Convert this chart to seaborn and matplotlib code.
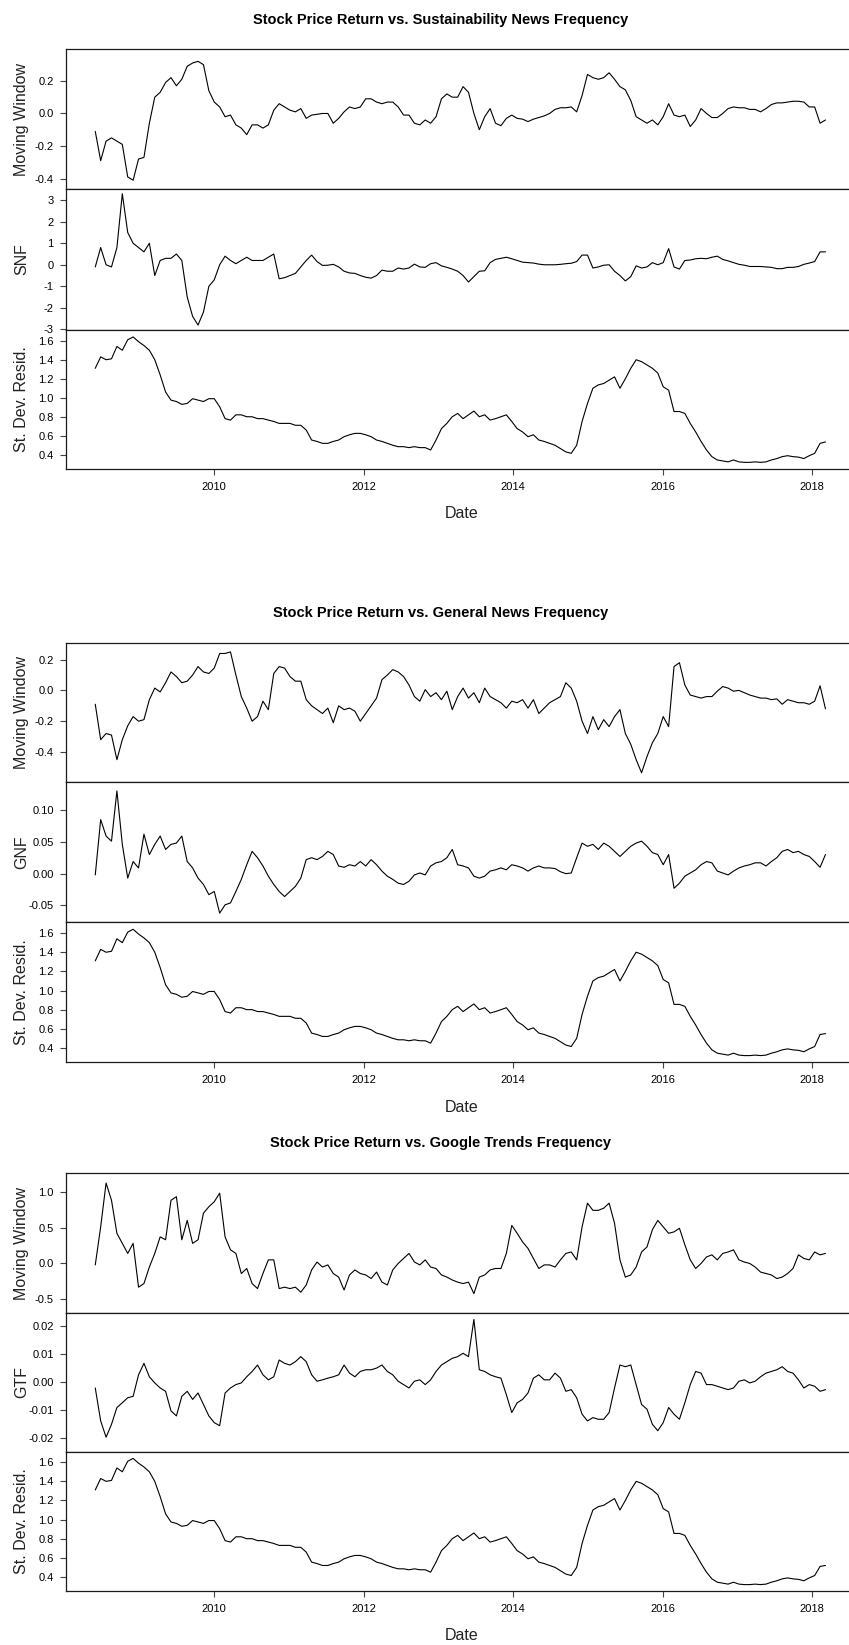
import numpy as np
import pandas as pd
import matplotlib
matplotlib.use("Agg")
import matplotlib.pyplot as plt
import seaborn as sns

# ---------------- data ----------------
START, END = "2008-05-30", "2018-03-07"

snf_mw = [-0.11, -0.29, -0.17, -0.15, -0.17, -0.19, -0.39, -0.41, -0.28, -0.27,
          -0.06, 0.10, 0.13, 0.19, 0.22, 0.17, 0.21, 0.29, 0.31, 0.32,
          0.30, 0.14, 0.07, 0.04, -0.02, -0.01, -0.07, -0.09, -0.13, -0.07,
          -0.07, -0.09, -0.07, 0.02, 0.06, 0.04, 0.02, 0.01, 0.03, -0.03,
          -0.01, -0.005, 0.0, 0.0, -0.06, -0.03, 0.01, 0.04, 0.03, 0.04,
          0.09, 0.09, 0.07, 0.06, 0.07, 0.07, 0.04, -0.01, -0.01, -0.06,
          -0.07, -0.04, -0.06, -0.02, 0.09, 0.12, 0.10, 0.10, 0.165, 0.13,
          0.0, -0.10, -0.02, 0.03, -0.06, -0.075, -0.03, -0.01, -0.03, -0.035,
          -0.05, -0.035, -0.025, -0.015, 0.0, 0.025, 0.035, 0.035, 0.04, 0.01,
          0.11, 0.24, 0.22, 0.21, 0.22, 0.25, 0.21, 0.165, 0.145, 0.08,
          -0.02, -0.04, -0.06, -0.04, -0.07, -0.02, 0.06, -0.01, -0.02, -0.01,
          -0.08, -0.04, 0.03, 0.0, -0.025, -0.025, 0.0, 0.03, 0.04, 0.035,
          0.035, 0.025, 0.025, 0.01, 0.03, 0.055, 0.065, 0.065, 0.07, 0.075,
          0.075, 0.07, 0.04, 0.04, -0.06, -0.04]

snf = [-0.1, 0.8, 0.0, -0.1, 0.8, 3.3, 1.5, 1.0, 0.8, 0.6,
       1.0, -0.5, 0.2, 0.3, 0.3, 0.5, 0.2, -1.5, -2.4, -2.8,
       -2.2, -1.0, -0.7, 0.0, 0.4, 0.2, 0.05, 0.2, 0.35, 0.2,
       0.2, 0.2, 0.35, 0.5, -0.65, -0.6, -0.5, -0.4, -0.1, 0.2,
       0.45, 0.15, -0.03, -0.02, 0.02, -0.1, -0.3, -0.38, -0.4, -0.5,
       -0.58, -0.62, -0.5, -0.25, -0.3, -0.3, -0.15, -0.2, -0.15, 0.03,
       -0.1, -0.12, 0.05, 0.1, -0.05, -0.12, -0.2, -0.3, -0.5, -0.8,
       -0.55, -0.3, -0.28, 0.1, 0.25, 0.3, 0.35, 0.28, 0.2, 0.12,
       0.1, 0.08, 0.03, 0.0, 0.0, 0.0, 0.02, 0.05, 0.07, 0.15,
       0.45, 0.45, -0.15, -0.1, -0.02, 0.0, -0.3, -0.5, -0.75, -0.55,
       -0.05, -0.15, -0.1, 0.1, 0.0, 0.1, 0.75, -0.1, -0.2, 0.2,
       0.22, 0.28, 0.3, 0.28, 0.35, 0.4, 0.25, 0.18, 0.1, 0.02,
       -0.02, -0.08, -0.08, -0.08, -0.1, -0.12, -0.18, -0.18, -0.12, -0.12,
       -0.08, 0.02, 0.08, 0.15, 0.6, 0.6]

sd_resid_snf = [1.31, 1.43, 1.40, 1.41, 1.54, 1.50, 1.61, 1.64, 1.59, 1.55,
                1.50, 1.40, 1.24, 1.06, 0.975, 0.96, 0.93, 0.94, 0.99, 0.975,
                0.96, 0.99, 0.99, 0.905, 0.78, 0.765, 0.82, 0.82, 0.80, 0.80,
                0.78, 0.78, 0.765, 0.75, 0.73, 0.73, 0.73, 0.71, 0.71, 0.66,
                0.555, 0.54, 0.52, 0.52, 0.54, 0.555, 0.59, 0.61, 0.625, 0.625,
                0.61, 0.59, 0.555, 0.54, 0.52, 0.50, 0.485, 0.485, 0.475, 0.485,
                0.475, 0.475, 0.45, 0.555, 0.675, 0.73, 0.80, 0.835, 0.78, 0.82,
                0.86, 0.80, 0.82, 0.765, 0.78, 0.80, 0.82, 0.75, 0.675, 0.64,
                0.59, 0.61, 0.555, 0.54, 0.52, 0.50, 0.465, 0.43, 0.415, 0.50,
                0.75, 0.94, 1.10, 1.135, 1.15, 1.185, 1.22, 1.10, 1.20, 1.31,
                1.40, 1.38, 1.345, 1.31, 1.26, 1.115, 1.08, 0.855, 0.855, 0.835,
                0.73, 0.64, 0.54, 0.45, 0.38, 0.345, 0.335, 0.325, 0.345, 0.325,
                0.32, 0.32, 0.325, 0.32, 0.325, 0.345, 0.36, 0.38, 0.39, 0.38,
                0.375, 0.36, 0.39, 0.415, 0.52, 0.535]

gnf_mw = [-0.09, -0.32, -0.28, -0.29, -0.45, -0.32, -0.23, -0.17, -0.20, -0.19,
          -0.06, 0.015, -0.01, 0.05, 0.12, 0.09, 0.05, 0.06, 0.10, 0.155,
          0.12, 0.11, 0.145, 0.24, 0.24, 0.25, 0.10, -0.04, -0.115, -0.20,
          -0.17, -0.07, -0.125, 0.11, 0.155, 0.145, 0.09, 0.06, 0.06, -0.06,
          -0.10, -0.125, -0.15, -0.115, -0.21, -0.10, -0.125, -0.115, -0.135, -0.20,
          -0.15, -0.10, -0.05, 0.07, 0.10, 0.135, 0.12, 0.09, 0.035, -0.04,
          -0.07, 0.005, -0.04, -0.015, -0.06, -0.005, -0.125, -0.04, 0.015, -0.05,
          -0.015, -0.08, 0.015, -0.04, -0.06, -0.08, -0.115, -0.07, -0.08, -0.06,
          -0.115, -0.06, -0.15, -0.115, -0.08, -0.06, -0.04, 0.05, 0.015, -0.07,
          -0.20, -0.28, -0.17, -0.255, -0.19, -0.235, -0.17, -0.125, -0.28, -0.35,
          -0.45, -0.535, -0.43, -0.34, -0.28, -0.17, -0.235, 0.155, 0.18, 0.035,
          -0.03, -0.04, -0.05, -0.04, -0.04, -0.005, 0.025, 0.015, -0.005, 0.0,
          -0.015, -0.03, -0.04, -0.05, -0.05, -0.06, -0.055, -0.09, -0.06, -0.07,
          -0.08, -0.08, -0.09, -0.07, 0.03, -0.12]

gnf = [-0.002, 0.085, 0.059, 0.051, 0.13, 0.046, -0.007, 0.019, 0.009, 0.062,
       0.03, 0.046, 0.059, 0.038, 0.046, 0.048, 0.059, 0.019, 0.009, -0.007,
       -0.017, -0.033, -0.028, -0.062, -0.049, -0.046, -0.028, -0.009, 0.014, 0.035,
       0.025, 0.012, -0.004, -0.017, -0.028, -0.036, -0.028, -0.02, -0.007, 0.022,
       0.025, 0.022, 0.027, 0.035, 0.03, 0.012, 0.010, 0.014, 0.012, 0.019,
       0.012, 0.022, 0.014, 0.004, -0.004, -0.009, -0.015, -0.017, -0.012, -0.002,
       0.001, -0.002, 0.012, 0.017, 0.019, 0.025, 0.038, 0.014, 0.012, 0.009,
       -0.004, -0.007, -0.004, 0.004, 0.006, 0.009, 0.006, 0.014, 0.012, 0.009,
       0.004, 0.009, 0.012, 0.009, 0.009, 0.008, 0.003, 0.0, 0.001, 0.025,
       0.048, 0.043, 0.046, 0.038, 0.048, 0.043, 0.035, 0.027, 0.035, 0.043,
       0.048, 0.051, 0.043, 0.033, 0.03, 0.014, 0.03, -0.023, -0.015, -0.004,
       0.001, 0.006, 0.014, 0.019, 0.017, 0.004, 0.001, -0.002, 0.004, 0.009,
       0.012, 0.014, 0.017, 0.017, 0.012, 0.019, 0.025, 0.035, 0.038, 0.033,
       0.035, 0.03, 0.027, 0.019, 0.01, 0.03]

sd_resid_gnf = sd_resid_snf[:-2] + [0.54, 0.55]

gtf_mw = [-0.02, 0.51, 1.12, 0.88, 0.42, 0.28, 0.14, 0.28, -0.33, -0.28,
          -0.05, 0.14, 0.37, 0.33, 0.88, 0.93, 0.33, 0.60, 0.28, 0.33,
          0.70, 0.79, 0.86, 0.98, 0.37, 0.19, 0.14, -0.14, -0.07, -0.28,
          -0.35, -0.14, 0.05, 0.05, -0.35, -0.33, -0.35, -0.33, -0.40, -0.30,
          -0.09, 0.02, -0.05, -0.02, -0.14, -0.19, -0.37, -0.16, -0.09, -0.14,
          -0.16, -0.21, -0.12, -0.26, -0.30, -0.09, 0.0, 0.07, 0.14, 0.02,
          -0.02, 0.05, -0.05, -0.07, -0.16, -0.19, -0.23, -0.26, -0.28, -0.26,
          -0.42, -0.19, -0.16, -0.09, -0.07, -0.07, 0.14, 0.53, 0.42, 0.30,
          0.21, 0.07, -0.07, -0.02, -0.02, -0.05, 0.05, 0.14, 0.16, 0.05,
          0.51, 0.84, 0.74, 0.74, 0.77, 0.84, 0.56, 0.05, -0.19, -0.16,
          -0.05, 0.16, 0.23, 0.47, 0.60, 0.51, 0.42, 0.44, 0.49, 0.26,
          0.05, -0.07, 0.0, 0.09, 0.12, 0.05, 0.14, 0.16, 0.19, 0.05,
          0.02, 0.0, -0.05, -0.12, -0.14, -0.16, -0.21, -0.19, -0.14, -0.07,
          0.12, 0.07, 0.05, 0.16, 0.12, 0.14]

gtf = [-0.002, -0.0138, -0.0196, -0.015, -0.009, -0.0073, -0.0055, -0.005, 0.0027, 0.0068,
       0.002, -0.0002, -0.002, -0.0032, -0.0102, -0.012, -0.005, -0.0032, -0.0061, -0.0038,
       -0.0079, -0.012, -0.0144, -0.0155, -0.0038, -0.002, -0.0008, -0.0002, 0.002, 0.0039,
       0.0062, 0.0027, 0.0009, 0.002, 0.008, 0.0068, 0.0062, 0.0074, 0.0092, 0.0074,
       0.0027, 0.0004, 0.0009, 0.0015, 0.002, 0.0027, 0.0062, 0.0033, 0.002, 0.0039,
       0.0045, 0.0045, 0.0051, 0.0062, 0.0039, 0.0027, 0.0004, -0.0008, -0.002, 0.0004,
       0.0009, -0.0008, 0.0009, 0.0039, 0.0062, 0.0074, 0.0086, 0.0092, 0.0104, 0.0092,
       0.0225, 0.0045, 0.0039, 0.0027, 0.002, 0.0015, -0.0044, -0.0108, -0.0073, -0.0061,
       -0.0038, 0.0015, 0.0027, 0.0009, 0.0009, 0.0033, 0.0015, -0.0032, -0.0026, -0.0055,
       -0.0114, -0.0138, -0.0126, -0.0132, -0.0132, -0.0108, -0.002, 0.0062, 0.0056, 0.0062,
       -0.0008, -0.0079, -0.0096, -0.015, -0.0173, -0.0144, -0.009, -0.0114, -0.0132, -0.0073,
       -0.0008, 0.0039, 0.0033, -0.0008, -0.0008, -0.0014, -0.002, -0.0026, -0.002, 0.0004,
       0.0009, -0.0002, 0.0004, 0.002, 0.0033, 0.0039, 0.0045, 0.0056, 0.0039, 0.0033,
       0.0009, -0.002, -0.0008, -0.0014, -0.0032, -0.0026]

sd_resid_gtf = sd_resid_snf[:-2] + [0.51, 0.52]

titles = ["Stock Price Return vs. Sustainability News Frequency",
          "Stock Price Return vs. General News Frequency",
          "Stock Price Return vs. Google Trends Frequency"]

groups = [
    [(snf_mw, "Moving Window"), (snf, "SNF"), (sd_resid_snf, "St. Dev. Resid.")],
    [(gnf_mw, "Moving Window"), (gnf, "GNF"), (sd_resid_gnf, "St. Dev. Resid.")],
    [(gtf_mw, "Moving Window"), (gtf, "GTF"), (sd_resid_gtf, "St. Dev. Resid.")],
]

yticks = [
    [([-0.4, -0.2, 0.0, 0.2], ["-0.4", "-0.2", "0.0", "0.2"]),
     ([-3, -2, -1, 0, 1, 2, 3], ["-3", "-2", "-1", "0", "1", "2", "3"]),
     ([0.4, 0.6, 0.8, 1.0, 1.2, 1.4, 1.6], ["0.4", "0.6", "0.8", "1.0", "1.2", "1.4", "1.6"])],
    [([-0.4, -0.2, 0.0, 0.2], ["-0.4", "-0.2", "0.0", "0.2"]),
     ([-0.05, 0.0, 0.05, 0.10], ["-0.05", "0.00", "0.05", "0.10"]),
     ([0.4, 0.6, 0.8, 1.0, 1.2, 1.4, 1.6], ["0.4", "0.6", "0.8", "1.0", "1.2", "1.4", "1.6"])],
    [([-0.5, 0.0, 0.5, 1.0], ["-0.5", "0.0", "0.5", "1.0"]),
     ([-0.02, -0.01, 0.0, 0.01, 0.02], ["-0.02", "-0.01", "0.00", "0.01", "0.02"]),
     ([0.4, 0.6, 0.8, 1.0, 1.2, 1.4, 1.6], ["0.4", "0.6", "0.8", "1.0", "1.2", "1.4", "1.6"])],
]

xtick_years = [2010, 2012, 2014, 2016, 2018]

# ---------------- layout (pixels) ----------------
W, H = 849, 1645
sns.set_style("ticks")
plt.rcParams['font.family'] = ['Liberation Sans', 'DejaVu Sans']

fig = plt.figure(figsize=(W / 100, H / 100), dpi=100)

AX_L, AX_R = 66, 857
panel_px = [
    [(49, 189), (189, 330), (330, 469)],
    [(643, 782), (782, 922), (922, 1062)],
    [(1173, 1313), (1313, 1452), (1452, 1591)],
]
ylims = [
    [(-0.464, 0.396), (-3.03, 3.52), (0.25, 1.713)],
    [(-0.595, 0.308), (-0.076, 0.144), (0.253, 1.716)],
    [(-0.69, 1.26), (-0.0249, 0.0248), (0.253, 1.707)],
]
title_y = [20, 613, 1143]
date_y = [514, 1107, 1635]

xmin = pd.Timestamp("2008-01-08")
xmax = pd.Timestamp("2018-08-08")
ink = "#1a1a1a"

for g, group in enumerate(groups):
    for p, (vals, ylabel) in enumerate(group):
        top, bot = panel_px[g][p]
        ax = fig.add_axes([AX_L / W, 1 - bot / H, (AX_R - AX_L) / W, (bot - top) / H])
        df = pd.DataFrame({"date": pd.date_range(START, END, periods=len(vals)),
                           "value": vals})
        sns.lineplot(data=df, x="date", y="value", ax=ax, color="black",
                     linewidth=0.8, estimator=None)
        ax.set_xlim(xmin, xmax)
        ax.set_ylim(*ylims[g][p])
        tv, tl = yticks[g][p]
        ax.set_yticks(tv)
        ax.set_yticklabels(tl)
        ax.set_xlabel("")
        ax.set_ylabel("")
        for s in ["left", "top", "bottom"]:
            ax.spines[s].set_visible(True)
            ax.spines[s].set_color(ink)
            ax.spines[s].set_linewidth(0.9)
        ax.spines["right"].set_visible(False)
        ax.tick_params(axis="y", length=4.3, width=0.8, color="#444444",
                       labelsize=8, pad=4.5, labelcolor="black")
        if p == 2:
            ax.set_xticks([pd.Timestamp(f"{y}-01-01") for y in xtick_years])
            ax.set_xticklabels([str(y) for y in xtick_years])
            ax.tick_params(axis="x", length=4.3, width=0.8, color="#444444",
                           labelsize=8, pad=5, labelcolor="black")
        else:
            ax.set_xticks([])
        fig.text(22 / W, 1 - ((top + bot) / 2) / H, ylabel, rotation=90,
                 ha="center", va="center", fontsize=11.5, color="#222222")
    fig.text(441 / W, 1 - title_y[g] / H, titles[g], ha="center", va="center",
             fontsize=10.5, fontweight="bold", color="black")
    fig.text(462 / W, 1 - date_y[g] / H, "Date", ha="center", va="center",
             fontsize=11.5, color="#222222")

fig.savefig("out.png", dpi=100)
